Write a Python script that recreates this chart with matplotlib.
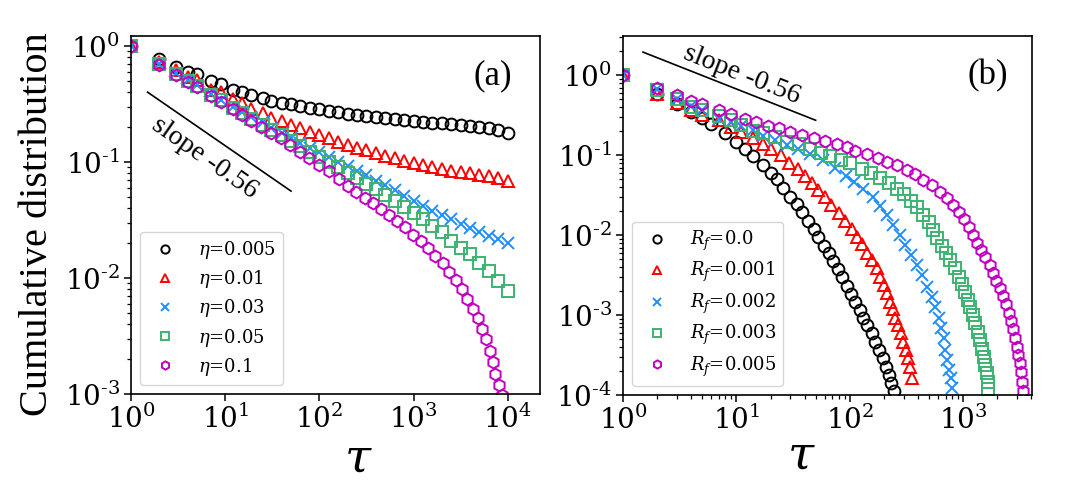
import math
import matplotlib
matplotlib.use("Agg")
import matplotlib.pyplot as plt
from matplotlib.ticker import FuncFormatter, LogLocator

# ---- panel (a): vary eta ----
x_a = [1, 2, 3, 4, 5, 7, 9, 12, 15, 19, 25, 31, 40, 50, 63, 80, 100, 126, 158, 200,
       251, 316, 398, 501, 631, 794, 1000, 1259, 1585, 1995, 2512, 3162, 3981, 5012,
       6310, 7943, 10000]
eta_005 = [1.0, 0.77, 0.66, 0.60, 0.57, 0.50, 0.47, 0.42, 0.40, 0.376, 0.358, 0.338,
           0.325, 0.315, 0.305, 0.295, 0.285, 0.276, 0.268, 0.261, 0.255, 0.249, 0.244,
           0.239, 0.234, 0.229, 0.225, 0.221, 0.218, 0.215, 0.212, 0.208, 0.203, 0.199,
           0.195, 0.188, 0.179]
eta_01 = [1.0, 0.73, 0.62, 0.54, 0.51, 0.42, 0.40, 0.35, 0.32, 0.286, 0.263, 0.238,
          0.227, 0.209, 0.198, 0.182, 0.171, 0.160, 0.150, 0.141, 0.133, 0.126, 0.119,
          0.113, 0.108, 0.103, 0.098, 0.094, 0.090, 0.087, 0.084, 0.082, 0.080, 0.078,
          0.076, 0.073, 0.068]
eta_03 = [1.0, 0.70, 0.58, 0.51, 0.46, 0.385, 0.345, 0.30, 0.27, 0.245, 0.22, 0.195,
          0.178, 0.16, 0.146, 0.133, 0.121, 0.111, 0.101, 0.092, 0.084, 0.077, 0.069,
          0.063, 0.057, 0.051, 0.046, 0.042, 0.038, 0.035, 0.032, 0.029, 0.027, 0.025,
          0.023, 0.0215, 0.020]
eta_05 = [1.0, 0.70, 0.57, 0.50, 0.45, 0.38, 0.34, 0.295, 0.262, 0.235, 0.21, 0.188,
          0.17, 0.152, 0.137, 0.123, 0.110, 0.100, 0.090, 0.081, 0.073, 0.065, 0.058,
          0.052, 0.046, 0.041, 0.036, 0.032, 0.028, 0.025, 0.021, 0.018, 0.016, 0.0135,
          0.0115, 0.0095, 0.0078]
x_a_eta1 = [1, 2, 3, 4, 5, 7, 9, 12, 15, 19, 24, 31, 39, 49, 62, 78, 100, 126, 162, 202,
            247, 302, 370, 446, 542, 662, 810, 993, 1194, 1429, 1706, 2034, 2393, 2813,
            3256, 3700, 4250, 4831, 5360, 5860, 6410, 6950, 7350, 8100, 8650]
eta_1 = [1.0, 0.68, 0.56, 0.49, 0.44, 0.37, 0.33, 0.285, 0.255, 0.225, 0.20, 0.178,
         0.16, 0.14, 0.123, 0.109, 0.095, 0.083, 0.071, 0.062, 0.0554, 0.0492, 0.044,
         0.039, 0.035, 0.031, 0.0277, 0.0235, 0.021, 0.018, 0.0155, 0.0134, 0.0113,
         0.0096, 0.0080, 0.0066, 0.0054, 0.0045, 0.00366, 0.00296, 0.00235, 0.00188,
         0.00149, 0.0012, 0.00099]
labels_a = [r"$\eta$=0.005", r"$\eta$=0.01", r"$\eta$=0.03", r"$\eta$=0.05", r"$\eta$=0.1"]

# ---- panel (b): vary R_f ----
x_rf0 = [1, 2, 3, 4, 5, 6, 8, 10, 12, 14, 17, 20, 23, 26, 30, 34, 38, 43, 48, 53, 59,
         65, 71, 78, 86, 94, 103, 112, 122, 132, 143, 156, 168, 181, 195, 208, 221, 233, 245]
rf0 = [1.0, 0.59, 0.44, 0.35, 0.296, 0.249, 0.19, 0.147, 0.119, 0.098, 0.076, 0.060,
       0.0497, 0.0394, 0.0302, 0.0244, 0.0196, 0.0151, 0.0118, 0.00935, 0.00736, 0.0059,
       0.00473, 0.00372, 0.00296, 0.0023, 0.00183, 0.00147, 0.00115, 0.00093, 0.00075,
       0.00059, 0.00046, 0.000365, 0.000287, 0.000226, 0.000178, 0.00014, 0.000113]
x_rf1 = [1, 2, 3, 4, 5, 7, 9, 11, 14, 17, 20, 25, 29, 35, 40, 46, 52, 60, 69, 81, 91,
         104, 115, 128, 141, 157, 174, 186, 199, 213, 226, 239, 252, 266, 281, 296, 311,
         326, 340, 355]
rf1 = [1.0, 0.58, 0.45, 0.365, 0.316, 0.279, 0.226, 0.196, 0.166, 0.14, 0.119, 0.10,
       0.081, 0.0668, 0.0552, 0.0451, 0.0365, 0.0296, 0.0237, 0.019, 0.0151, 0.0121,
       0.00953, 0.00772, 0.00601, 0.00487, 0.00383, 0.00302, 0.00237, 0.00187, 0.00147,
       0.00118, 0.00093, 0.00075, 0.00059, 0.00046, 0.00037, 0.000287, 0.000226, 0.000165]
x_rf2 = [1, 2, 3, 4, 5, 7, 9, 11, 14, 17, 22, 28, 35, 45, 58, 74, 92, 110, 132, 160, 185,
         212, 243, 279, 308, 346, 391, 433, 479, 530, 567, 607, 637, 672, 695, 719, 754,
         780, 795]
rf2 = [1.0, 0.68, 0.51, 0.41, 0.37, 0.287, 0.26, 0.23, 0.205, 0.173, 0.154, 0.133, 0.121,
       0.103, 0.087, 0.070, 0.055, 0.046, 0.038, 0.030, 0.023, 0.0178, 0.0133, 0.01,
       0.0075, 0.0056, 0.0042, 0.00316, 0.00226, 0.0017, 0.00127, 0.00091, 0.00068,
       0.00051, 0.000365, 0.000274, 0.000205, 0.000162, 0.000121]
x_rf3 = [1, 2, 3, 4, 5, 7, 9, 11, 14, 17, 22, 28, 36, 45, 56, 67, 83, 101, 128, 153, 185,
         220, 261, 298, 346, 391, 442, 495, 541, 594, 650, 709, 769, 851, 912, 977, 1043,
         1094, 1155, 1220, 1279, 1340, 1396, 1465, 1514, 1567, 1610, 1645, 1670]
rf3 = [1.0, 0.66, 0.51, 0.40, 0.37, 0.307, 0.274, 0.237, 0.20, 0.187, 0.17, 0.147, 0.14,
       0.121, 0.107, 0.097, 0.088, 0.080, 0.068, 0.060, 0.0526, 0.045, 0.0383, 0.0326,
       0.0269, 0.0222, 0.0178, 0.0147, 0.01155, 0.0091, 0.0073, 0.0059, 0.00487, 0.00383,
       0.00301, 0.00244, 0.00196, 0.00154, 0.00125, 0.001, 0.00079, 0.00062, 0.00049,
       0.00038, 0.0003, 0.000237, 0.000186, 0.000147, 0.00012]
x_rf5 = [1, 2, 3, 4, 5, 7, 9, 12, 15, 19, 24, 30, 38, 48, 61, 77, 95, 112, 142, 176, 215,
         261, 319, 378, 447, 530, 620, 719, 813, 912, 1009, 1117, 1220, 1324, 1445, 1567,
         1711, 1833, 1960, 2097, 2245, 2385, 2520, 2650, 2770, 2880, 2980, 3070, 3160,
         3240, 3320, 3400]
rf5 = [1.0, 0.70, 0.56, 0.48, 0.434, 0.373, 0.325, 0.287, 0.261, 0.23, 0.216, 0.196,
       0.178, 0.166, 0.151, 0.138, 0.125, 0.113, 0.103, 0.091, 0.0826, 0.075, 0.066,
       0.058, 0.0487, 0.042, 0.0348, 0.0288, 0.0237, 0.0196, 0.0157, 0.0127, 0.01, 0.008,
       0.0065, 0.00526, 0.0042, 0.00332, 0.00268, 0.00215, 0.00173, 0.00137, 0.00107,
       0.00085, 0.00066, 0.00051, 0.0004, 0.000316, 0.000249, 0.000192, 0.000147, 0.000113]
labels_b = [r"$R_f$=0.0", r"$R_f$=0.001", r"$R_f$=0.002", r"$R_f$=0.003", r"$R_f$=0.005"]

markers = ["o", "^", "x", "s", "h"]
colors = ["black", "red", "#1f8fff", "#3cb371", "#c000c0"]

plt.rcParams["font.family"] = ["Liberation Serif", "DejaVu Serif"]
plt.rcParams["mathtext.fontset"] = "dejavuserif"


def pow_label(v, pos):
    e = int(round(math.log10(v)))
    # hyphen (U+2010) instead of a minus sign, as in the original figure
    return r"$\mathrm{10}^{\mathrm{%s}}$" % str(e).replace("-", "\u2010")


def style_axes(ax, xlim, ylim):
    ax.set_xscale("log")
    ax.set_yscale("log")
    ax.set_xlim(*xlim)
    ax.set_ylim(*ylim)
    ax.xaxis.set_major_locator(LogLocator(base=10, numticks=20))
    ax.yaxis.set_major_locator(LogLocator(base=10, numticks=20))
    ax.xaxis.set_major_formatter(FuncFormatter(pow_label))
    ax.yaxis.set_major_formatter(FuncFormatter(pow_label))
    ax.tick_params(which="major", labelsize=20, length=5, width=1.1, pad=3)
    ax.tick_params(which="minor", length=3, width=0.9)
    for s in ax.spines.values():
        s.set_linewidth(1.2)


def draw(ax, xs, ys, labels):
    for x, y, lab, m, c in zip(xs, ys, labels, markers, colors):
        ax.plot(x, y, linestyle="none", marker=m, ms=8.5, mfc="none", mec=c, mew=1.4,
                label=lab)
    ax.legend(loc="lower left", prop={"family": "DejaVu Serif", "size": 13},
              markerscale=0.7, labelspacing=0.4)


fig = plt.figure(figsize=(10.69, 5.03), dpi=100)
ax1 = fig.add_axes([131 / 1069, 1 - 394 / 503, 409 / 1069, 358 / 503])
ax2 = fig.add_axes([623 / 1069, 1 - 395 / 503, 409 / 1069, 359 / 503])

draw(ax1, [x_a, x_a, x_a, x_a, x_a_eta1], [eta_005, eta_01, eta_03, eta_05, eta_1], labels_a)
style_axes(ax1, (1, 2.2e4), (1e-3, 1.22))
ax1.plot([1.5, 50], [0.40, 0.40 * (50 / 1.5) ** -0.56], color="black", lw=1.2)
ax1.text(6.1, 0.109, "slope -0.56", rotation=-35, ha="center", va="center", fontsize=20)
ax1.text(0.885, 0.888, "(a)", transform=ax1.transAxes, ha="center", va="center", fontsize=25)

draw(ax2, [x_rf0, x_rf1, x_rf2, x_rf3, x_rf5], [rf0, rf1, rf2, rf3, rf5], labels_b)
style_axes(ax2, (1, 4050), (1e-4, 3.1))
ax2.plot([1.5, 50], [1.95, 1.95 * (50 / 1.5) ** -0.56], color="black", lw=1.2)
ax2.text(11.1, 1.0, "slope -0.56", rotation=-21.5, ha="center", va="center", fontsize=20)
ax2.text(0.891, 0.89, "(b)", transform=ax2.transAxes, ha="center", va="center", fontsize=25)

fig.text(38 / 1069, 1 - 224 / 503, "Cumulative distribution", rotation=90,
         ha="center", va="center", fontsize=29)
fig.text(358 / 1069, 1 - 461 / 503, r"$\tau$", ha="center", va="center", fontsize=34)
fig.text(801 / 1069, 1 - 458 / 503, r"$\tau$", ha="center", va="center", fontsize=34)

fig.savefig("out.png", dpi=100)
